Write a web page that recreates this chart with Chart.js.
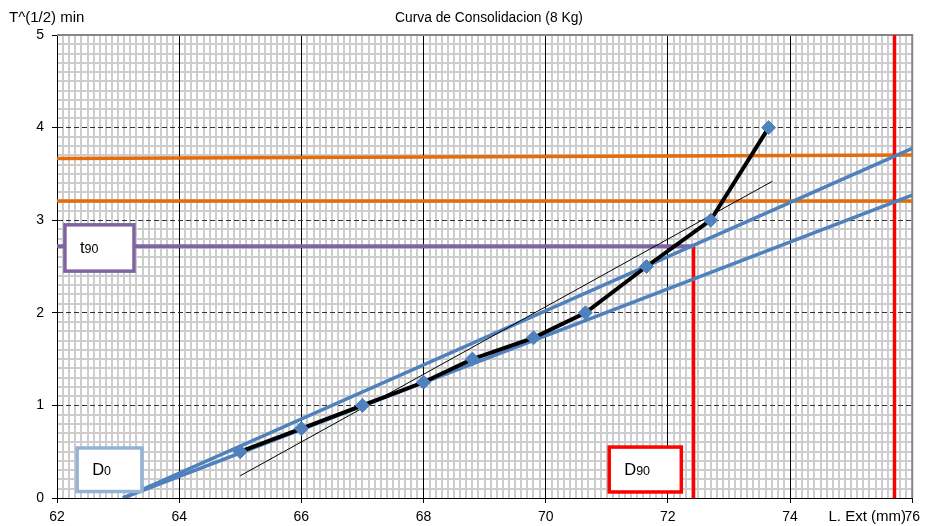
<!DOCTYPE html>
<html>
<head>
<meta charset="utf-8">
<script src="https://cdn.jsdelivr.net/npm/chart.js@4.4.1/dist/chart.umd.min.js"></script>
<style>
html, body { margin: 0; padding: 0; background: #fff; }
canvas { display: block; }
</style>
</head>
<body>
<canvas id="myChart" width="926" height="526"></canvas>
<script>
// datos de la curva (L. Ext vs raiz del tiempo)
const extension = [65, 66, 67, 68, 68.8, 69.8, 70.65, 71.65, 72.7, 73.65];
const raizTiempo = [0.5, 0.75, 1, 1.25, 1.5, 1.73, 2, 2.5, 3, 4];

// rectas de construccion (Taylor)
const rectaInicialX = [63.08, 76];
const rectaInicialY = [0, 3.27];
const recta115X = [63.08, 76];
const recta115Y = [0, 3.775];
const tendenciaX = [65, 73.71];
const tendenciaY = [0.24, 3.42];
const naranjaInfY = [3.207, 3.207];
const naranjaSupY = [3.665, 3.705];
const limitesX = [62, 76];
const t90 = 2.72;
const d90 = 72.42;
const dFinal = 75.71;

const ejeXMin = 62, ejeXMax = 76;
const ejeYMin = 0, ejeYMax = 5;

const fuente = '"Liberation Sans", Arial, sans-serif';
const grisMenor = '#cdcdcd';

function esPar(v) { return Math.abs(v / 2 - Math.round(v / 2)) < 1e-6; }
function esEntero(v) { return Math.abs(v - Math.round(v)) < 1e-6; }

function puntos(xs, ys) {
    return xs.map((x, i) => ({ x: x, y: ys[i] }));
}

function recta(datos, color, ancho) {
    return {
        data: datos,
        borderColor: color,
        backgroundColor: color,
        borderWidth: ancho,
        pointRadius: 0,
        fill: false,
        tension: 0
    };
}

const cajas = [
    { texto: 't', sub: '90', x0: 62.13, x1: 63.26, y0: 2.95, y1: 2.45, borde: '#8064A2' },
    { texto: 'D', sub: '0', x0: 62.33, x1: 63.39, y0: 0.54, y1: 0.07, borde: '#95B3D7' },
    { texto: 'D', sub: '90', x0: 71.04, x1: 72.22, y0: 0.55, y1: 0.065, borde: '#FF0000' }
];

const marcoPlugin = {
    id: 'marco',
    beforeDatasetsDraw(chart) {
        const { ctx, chartArea: a } = chart;
        ctx.save();
        ctx.strokeStyle = '#868686';
        ctx.lineWidth = 2;
        ctx.beginPath();
        ctx.moveTo(a.left, a.top);
        ctx.lineTo(a.right, a.top);
        ctx.lineTo(a.right, a.bottom);
        ctx.stroke();
        ctx.restore();
    }
};

const cajasPlugin = {
    id: 'cajas',
    afterDatasetsDraw(chart) {
        const { ctx } = chart;
        const sx = chart.scales.x, sy = chart.scales.y;
        ctx.save();
        cajas.forEach(c => {
            const l = sx.getPixelForValue(c.x0), r = sx.getPixelForValue(c.x1);
            const t = sy.getPixelForValue(c.y0), b = sy.getPixelForValue(c.y1);
            ctx.fillStyle = '#fff';
            ctx.fillRect(l, t, r - l, b - t);
            ctx.strokeStyle = c.borde;
            ctx.lineWidth = 3.5;
            ctx.strokeRect(l, t, r - l, b - t);
            ctx.fillStyle = '#000';
            ctx.textAlign = 'left';
            ctx.textBaseline = 'alphabetic';
            const base = (t + b) / 2 + 5.5;
            ctx.font = '16.5px ' + fuente;
            ctx.fillText(c.texto, l + 15, base);
            const w = ctx.measureText(c.texto).width;
            ctx.font = '12.5px ' + fuente;
            ctx.fillText(c.sub, l + 15 + w, base);
        });
        ctx.restore();
    }
};

const textosPlugin = {
    id: 'textos',
    afterDraw(chart) {
        const { ctx } = chart;
        ctx.save();
        ctx.fillStyle = '#000';
        ctx.textBaseline = 'middle';
        ctx.font = '13.8px ' + fuente;
        ctx.textAlign = 'center';
        ctx.fillText('Curva de Consolidacion (8 Kg)', 489, 18);
        ctx.font = '15px ' + fuente;
        ctx.textAlign = 'left';
        ctx.fillText('T^(1/2) min', 9, 18);
        ctx.textAlign = 'right';
        ctx.fillText('L. Ext (mm)', 906, 517);
        ctx.restore();
    }
};

const ctx = document.getElementById('myChart').getContext('2d');
const myChart = new Chart(ctx, {
    type: 'line',
    data: {
        datasets: [
            {
                data: puntos(extension, raizTiempo),
                borderColor: '#000',
                borderWidth: 4,
                pointStyle: 'rectRot',
                pointRadius: 7,
                pointBackgroundColor: '#4F81BD',
                pointBorderColor: '#4F81BD',
                pointBorderWidth: 1,
                fill: false,
                tension: 0
            },
            recta(puntos(tendenciaX, tendenciaY), '#000', 1),
            recta(puntos(recta115X, recta115Y), '#4F81BD', 3.5),
            recta(puntos(rectaInicialX, rectaInicialY), '#4F81BD', 3.5),
            recta(puntos([ejeXMin, d90], [t90, t90]), '#8064A2', 4),
            recta(puntos([d90, d90], [ejeYMin, t90]), '#FF0000', 3.5),
            recta(puntos([dFinal, dFinal], [ejeYMin, ejeYMax]), '#FF0000', 3.5),
            recta(puntos(limitesX, naranjaSupY), '#E46C0A', 3.5),
            recta(puntos(limitesX, naranjaInfY), '#E46C0A', 3.5)
        ]
    },
    options: {
        responsive: false,
        animation: false,
        layout: { padding: { top: 35, right: 13, left: 0, bottom: 0 } },
        plugins: {
            legend: { display: false },
            title: { display: false },
            tooltip: { enabled: false }
        },
        scales: {
            // cuadricula menor (0.1), se dibuja debajo
            xm: {
                type: 'linear',
                position: 'bottom',
                min: ejeXMin,
                max: ejeXMax,
                z: -1,
                afterFit: s => { s.height = 0; },
                ticks: { display: false, stepSize: 0.1, autoSkip: false },
                grid: {
                    color: c => esPar(c.tick.value) ? 'rgba(0,0,0,0)' : grisMenor,
                    lineWidth: 2,
                    drawTicks: false
                },
                border: { display: false }
            },
            ym: {
                type: 'linear',
                position: 'left',
                min: ejeYMin,
                max: ejeYMax,
                z: -1,
                afterFit: s => { s.width = 0; },
                ticks: { display: false, stepSize: 0.1, autoSkip: false },
                grid: {
                    color: c => esEntero(c.tick.value) ? 'rgba(0,0,0,0)' : grisMenor,
                    lineWidth: 2,
                    drawTicks: false
                },
                border: { display: false }
            },
            x: {
                type: 'linear',
                position: 'bottom',
                min: ejeXMin,
                max: ejeXMax,
                afterFit: s => { s.height = 28; },
                ticks: {
                    stepSize: 2,
                    autoSkip: false,
                    maxRotation: 0,
                    padding: 6,
                    color: '#000',
                    font: { family: fuente, size: 14 }
                },
                grid: {
                    color: '#000',
                    lineWidth: 1,
                    tickColor: '#000',
                    tickLength: 5
                },
                border: { color: '#000', width: 1 }
            },
            y: {
                type: 'linear',
                position: 'left',
                min: ejeYMin,
                max: ejeYMax,
                afterFit: s => { s.width = 57; },
                ticks: {
                    stepSize: 1,
                    autoSkip: false,
                    padding: 8,
                    color: '#000',
                    font: { family: fuente, size: 14 }
                },
                grid: {
                    color: '#333',
                    lineWidth: 1,
                    tickColor: '#000',
                    tickLength: 5,
                    tickBorderDash: []
                },
                border: {
                    color: '#000',
                    width: 1,
                    dash: c => c.tick ? [5, 3] : []
                }
            }
        }
    },
    plugins: [marcoPlugin, cajasPlugin, textosPlugin]
});
</script>
</body>
</html>
